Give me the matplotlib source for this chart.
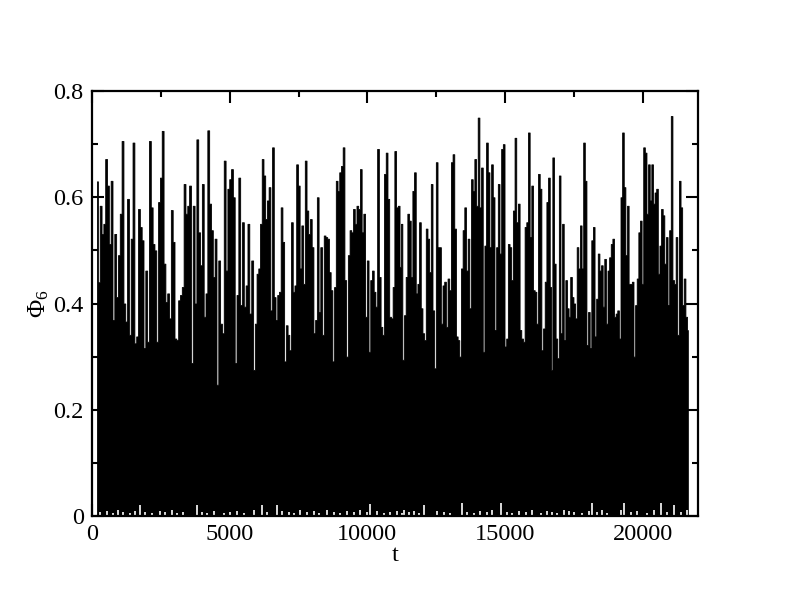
import numpy as np
import matplotlib
matplotlib.use("Agg")
import matplotlib.pyplot as plt
from matplotlib.ticker import MultipleLocator, FuncFormatter

# upper envelope of Phi_6(t), four consecutive stretches
seg1 = [0.63, 0.44, 0.584, 0.531, 0.55, 0.672, 0.622, 0.512, 0.631, 0.369, 0.531, 0.412,
        0.491, 0.569, 0.706, 0.40, 0.366, 0.597, 0.341, 0.522, 0.703, 0.325, 0.338, 0.578,
        0.544, 0.519, 0.316, 0.462, 0.328, 0.706, 0.581, 0.512, 0.50, 0.328, 0.591, 0.637,
        0.725, 0.475, 0.403, 0.419, 0.372, 0.576, 0.516, 0.334, 0.331, 0.406, 0.416, 0.431,
        0.625, 0.569, 0.584, 0.622, 0.288, 0.584, 0.40, 0.709, 0.534, 0.472, 0.625, 0.375,
        0.419, 0.726, 0.588, 0.538, 0.45, 0.522, 0.247, 0.481, 0.362, 0.344, 0.669, 0.462,
        0.616, 0.634, 0.653, 0.60, 0.288, 0.416, 0.637, 0.397, 0.553, 0.394, 0.434, 0.55, 0.381]
seg2 = [0.481, 0.275, 0.362, 0.456, 0.466, 0.55, 0.672, 0.641, 0.559, 0.594, 0.619, 0.387,
        0.694, 0.412, 0.369, 0.416, 0.422, 0.581, 0.516, 0.291, 0.359, 0.341, 0.312, 0.553,
        0.422, 0.434, 0.662, 0.622, 0.466, 0.547, 0.437, 0.669, 0.575, 0.531, 0.559, 0.506,
        0.344, 0.369, 0.60, 0.384, 0.506, 0.341, 0.528, 0.525, 0.522, 0.459, 0.425, 0.291,
        0.431, 0.631, 0.612, 0.647, 0.659, 0.694, 0.444, 0.30, 0.491, 0.538, 0.534, 0.578,
        0.55, 0.584, 0.578, 0.653, 0.534, 0.569, 0.375, 0.481, 0.309, 0.444, 0.462, 0.422,
        0.394, 0.691, 0.45, 0.356, 0.341, 0.644, 0.684, 0.597, 0.375, 0.372, 0.431, 0.687,
        0.581, 0.584, 0.469]
seg3 = [0.55, 0.294, 0.378, 0.45, 0.569, 0.556, 0.45, 0.612, 0.647, 0.419, 0.437, 0.553,
        0.391, 0.344, 0.331, 0.541, 0.522, 0.459, 0.625, 0.387, 0.278, 0.666, 0.506, 0.506,
        0.362, 0.434, 0.441, 0.356, 0.447, 0.425, 0.666, 0.681, 0.541, 0.338, 0.331, 0.30,
        0.466, 0.538, 0.581, 0.462, 0.522, 0.391, 0.634, 0.612, 0.672, 0.584, 0.75, 0.581,
        0.656, 0.309, 0.509, 0.703, 0.647, 0.506, 0.662, 0.60, 0.35, 0.506, 0.625, 0.494,
        0.691, 0.70, 0.319, 0.334, 0.512, 0.506, 0.444, 0.575, 0.712, 0.553, 0.588, 0.35,
        0.334, 0.328, 0.544, 0.553, 0.722, 0.525, 0.622, 0.425, 0.422, 0.362, 0.644, 0.616,
        0.312, 0.353, 0.441, 0.591, 0.637, 0.431]
seg4 = [0.275, 0.675, 0.475, 0.334, 0.297, 0.641, 0.344, 0.55, 0.331, 0.444, 0.391, 0.375,
        0.45, 0.412, 0.40, 0.372, 0.506, 0.466, 0.547, 0.466, 0.703, 0.631, 0.322, 0.384,
        0.316, 0.519, 0.544, 0.338, 0.409, 0.494, 0.462, 0.472, 0.394, 0.484, 0.362, 0.462,
        0.487, 0.512, 0.522, 0.375, 0.381, 0.387, 0.334, 0.60, 0.722, 0.619, 0.491, 0.584,
        0.437, 0.437, 0.441, 0.30, 0.397, 0.447, 0.534, 0.556, 0.437, 0.694, 0.684, 0.569,
        0.662, 0.594, 0.662, 0.588, 0.609, 0.616, 0.456, 0.509, 0.578, 0.566, 0.475, 0.525,
        0.397, 0.538, 0.753, 0.444, 0.437, 0.525, 0.341, 0.631, 0.581, 0.397, 0.447, 0.375, 0.35]
seg_t = [(180, 5745), (5820, 11200), (11240, 16655), (16690, 21640)]

# short white gaps near zero (times, heights)
gap_t = [110, 291, 533, 776, 958, 1139, 1382, 1564, 1745, 1927, 2170, 2473, 2655, 2897,
         3079, 3321, 3806, 3988, 4170, 4412, 4776, 5018, 5261, 5503, 5867, 6170, 6352,
         6715, 6897, 7140, 7321, 7564, 7806, 8048, 8230, 8533, 8776, 9018, 9261, 9503,
         9746, 9988, 10109, 10352, 10594, 10836, 11079, 11261, 11321, 11503, 11685, 11867,
         12048, 12533, 12776, 13018, 13442, 13624, 13867, 14109, 14352, 14533, 14836,
         15079, 15261, 15503, 15745, 15988, 16291, 16533, 16715, 16897, 17139, 17321,
         17503, 17806, 18048, 18170, 18352, 18533, 18715, 19200, 19321, 19564, 19806,
         20170, 20412, 20655, 20897, 21139, 21382, 21624]
gap_h = [0.02, 0.008, 0.01, 0.006, 0.012, 0.008, 0.006, 0.01, 0.02, 0.008, 0.006, 0.01,
         0.008, 0.012, 0.006, 0.008, 0.02, 0.008, 0.006, 0.01, 0.006, 0.008, 0.01, 0.006,
         0.012, 0.02, 0.008, 0.02, 0.01, 0.008, 0.006, 0.012, 0.008, 0.01, 0.006, 0.012,
         0.008, 0.006, 0.01, 0.008, 0.012, 0.008, 0.022, 0.01, 0.006, 0.008, 0.01, 0.006,
         0.012, 0.008, 0.01, 0.006, 0.02, 0.01, 0.008, 0.006, 0.025, 0.008, 0.006, 0.01,
         0.008, 0.012, 0.025, 0.008, 0.006, 0.01, 0.008, 0.012, 0.006, 0.01, 0.008, 0.006,
         0.012, 0.01, 0.008, 0.006, 0.01, 0.025, 0.008, 0.012, 0.006, 0.012, 0.025, 0.008,
         0.01, 0.006, 0.012, 0.025, 0.008, 0.02, 0.008, 0.012]

plt.rcParams['font.family'] = ['Liberation Serif', 'DejaVu Serif']
plt.rcParams['mathtext.fontset'] = 'custom'
plt.rcParams['mathtext.rm'] = 'Liberation Serif'
plt.rcParams['mathtext.it'] = 'Liberation Serif'

fig = plt.figure(figsize=(7.92, 6.07), dpi=100)
ax = fig.add_axes([0.1162, 0.150, 0.7648, 0.700])

segs = [seg1, seg2, seg3, seg4]
t = np.concatenate([np.linspace(t0, t1, len(s)) for s, (t0, t1) in zip(segs, seg_t)])
phi = np.concatenate([np.array(s) for s in segs])
ax.fill_between(t, 0, phi, step='mid', color='black', linewidth=0.6, edgecolor='black')

ax.vlines(gap_t, 0, gap_h, colors='white', linewidth=1.2)

ax.set_xlim(0, 22000)
ax.set_ylim(0, 0.8)
ax.xaxis.set_major_locator(MultipleLocator(5000))
ax.xaxis.set_minor_locator(MultipleLocator(2500))
ax.yaxis.set_major_locator(MultipleLocator(0.2))
ax.yaxis.set_minor_locator(MultipleLocator(0.1))
fmt = FuncFormatter(lambda v, p: '%g' % v)
ax.xaxis.set_major_formatter(fmt)
ax.yaxis.set_major_formatter(fmt)

ax.tick_params(which='both', direction='in', top=True, right=True, width=1.5,
               labelsize=17.5, pad=6)
ax.tick_params(which='major', length=8.5)
ax.tick_params(which='minor', length=4.5)
for s in ax.spines.values():
    s.set_linewidth(1.6)

ax.set_xlabel('t', fontsize=17.5, labelpad=0)
ax.set_ylabel(r'$\Phi_6$', fontsize=18, labelpad=2)

fig.savefig('out.png', dpi=100)
